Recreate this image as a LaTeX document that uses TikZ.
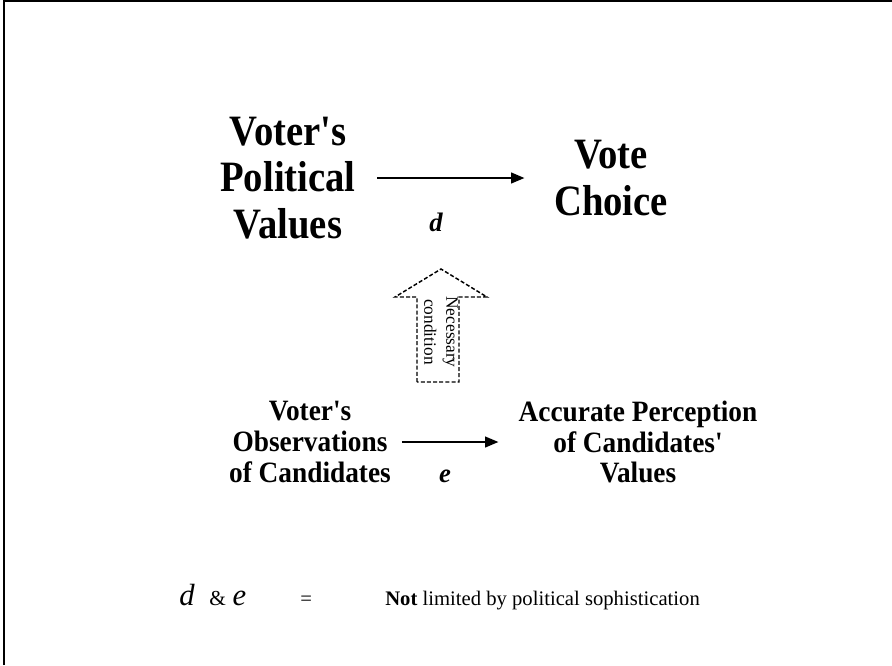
\documentclass[tikz,border=0pt]{standalone}
\usepackage{fontspec}
\setmainfont{Liberation Serif}
\usetikzlibrary{arrows.meta}
\newcommand{\apos}{\textquotesingle}
\tikzset{
  bigtext/.style={align=center, inner sep=0pt, yscale=1.12, font=\fontsize{29}{31}\selectfont\bfseries},
  smalltext/.style={align=center, inner sep=0pt, yscale=1.08, font=\fontsize{20.5}{21.5}\selectfont\bfseries},
  letter/.style={inner sep=0pt, font=\fontsize{20}{24}\selectfont\bfseries\itshape},
  causal/.style={line width=1.5pt, -{Triangle[length=10pt, width=8pt]}},
}
\begin{document}
\begin{tikzpicture}[x=0.75pt, y=-0.75pt]
  \useasboundingbox (0,0) rectangle (892,665);
  \draw[line width=1.5pt] (3.5,665) -- (3.5,1) -- (892,1);
  % top row
  \node[bigtext] (values) at (288,178) {Voter\apos s\\Political\\Values};
  \node[bigtext] (choice) at (611,178) {Vote\\Choice};
  \draw[causal, shorten <=16pt, shorten >=22pt] (values.east) -- (choice.west);
  \node[letter] (dlab) at (436,222) {d};
  % bottom row
  \node[smalltext] (obs) at (310,442) {Voter\apos s\\Observations\\of Candidates};
  \node[smalltext] (percep) at (638,442) {Accurate Perception\\of Candidates\apos\\Values};
  \draw[causal, shorten <=8pt, shorten >=15pt] (obs.east) -- (percep.west);
  \node[letter] (elab) at (445,476) {e};
  % dashed block arrow
  \draw[line width=1.1pt, dash pattern=on 3pt off 1.6pt]
    (417,382) -- (417,297) -- (395,297) -- (441,269) -- (487,297)
    -- (459,297) -- (459,382) -- cycle;
  \node[align=center, rotate=-90, inner sep=0pt, font=\fontsize{13}{16.5}\selectfont] (need) at (441,332) {Necessary\\condition};
  % legend
  \node[inner sep=0pt, anchor=base west] (de) at (179,605)
    {\fontsize{23}{26}\selectfont\itshape d\hspace{11pt}\fontsize{16}{18}\selectfont\upshape\&\hspace{5pt}\fontsize{23}{26}\selectfont\itshape e};
  \node[inner sep=0pt, anchor=base west, font=\fontsize{15.5}{18}\selectfont] (eq) at (300,605) {=};
  \node[inner sep=0pt, anchor=base west, font=\fontsize{15.5}{18}\selectfont] (note) at (385,605) {\textbf{Not} limited by political sophistication};
\end{tikzpicture}
\end{document}
